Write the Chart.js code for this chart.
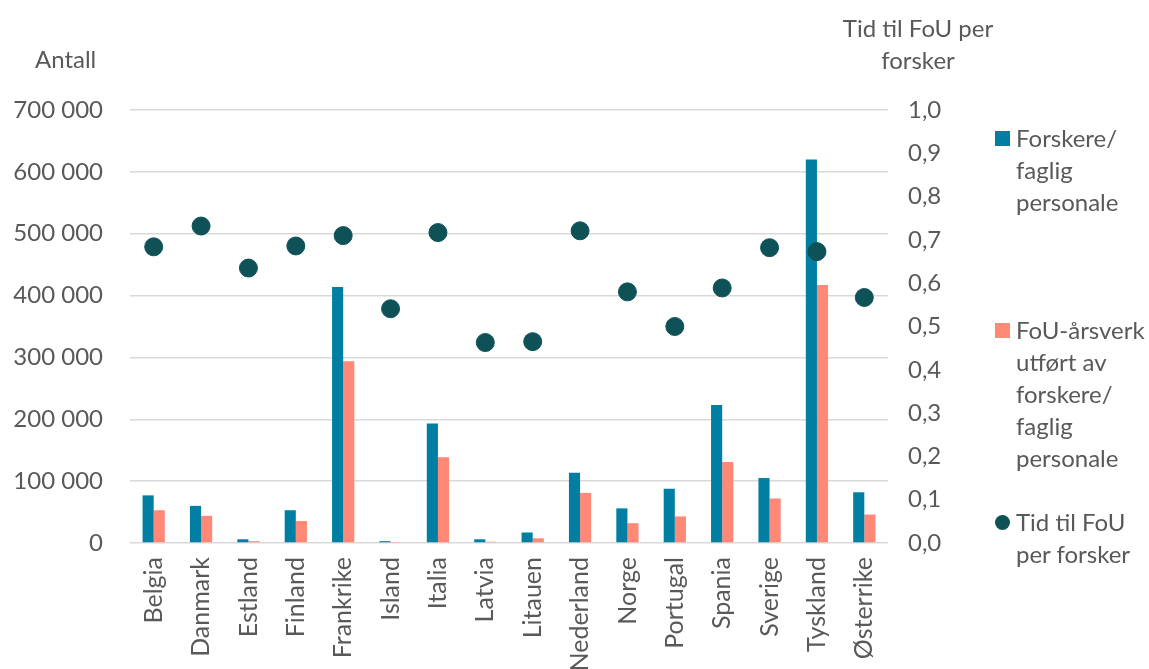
<!DOCTYPE html>
<html>
<head>
<meta charset="utf-8">
<script src="https://cdn.jsdelivr.net/npm/chart.js@4/dist/chart.umd.min.js"></script>
<style>
  html, body { margin: 0; padding: 0; background: #fff; }
  #wrap { position: relative; width: 1149px; height: 669px; font-family: Lato, sans-serif; color: #595959; }
  .t { position: absolute; font-size: 24px; line-height: 32px; white-space: nowrap; }
  .leg { position: absolute; left: 995px; font-size: 24px; line-height: 32px; }
  .leg .sw { position: absolute; left: 0; width: 15px; height: 15px; }
  .leg .tx { position: absolute; left: 21px; white-space: nowrap; }
</style>
</head>
<body>
<div id="wrap">
  <canvas id="chart" width="1149" height="669"></canvas>
  <div class="t" style="left:35px; top:43px;">Antall</div>
  <div class="t" style="left:818px; top:12px; width:200px; text-align:center;">Tid til FoU per<br>forsker</div>
  <div class="leg" style="top:122px;">
    <div class="sw" style="top:9px; background:#007FA3;"></div>
    <div class="tx">Forskere/<br>faglig<br>personale</div>
  </div>
  <div class="leg" style="top:314px;">
    <div class="sw" style="top:9px; background:#FF8876;"></div>
    <div class="tx">FoU-årsverk<br>utført av<br>forskere/<br>faglig<br>personale</div>
  </div>
  <div class="leg" style="top:506px;">
    <div class="sw" style="top:9px; border-radius:50%; background:#0E5257;"></div>
    <div class="tx">Tid til FoU<br>per forsker</div>
  </div>
</div>
<script>
const countries = ["Belgia", "Danmark", "Estland", "Finland", "Frankrike", "Island", "Italia", "Latvia",
  "Litauen", "Nederland", "Norge", "Portugal", "Spania", "Sverige", "Tyskland", "Østerrike"];
const researchers = [77000, 60000, 6000, 53000, 414000, 3000, 193000, 6000,
  17000, 113500, 56000, 87700, 223000, 105000, 620000, 82000];
const fteResearch = [53000, 44000, 3000, 35500, 294000, 1500, 138500, 2000,
  7600, 81000, 32000, 43000, 131000, 72000, 417000, 46000];
const timeShare = [0.684, 0.732, 0.635, 0.686, 0.710, 0.541, 0.717, 0.463,
  0.465, 0.721, 0.580, 0.500, 0.589, 0.682, 0.673, 0.567];

const textColor = '#595959';
const font = { family: 'Lato', size: 24 };

new Chart(document.getElementById('chart'), {
  data: {
    labels: countries,
    datasets: [
      {
        type: 'bar', label: 'Forskere/ faglig personale', data: researchers,
        backgroundColor: '#007FA3', yAxisID: 'y', order: 2,
        categoryPercentage: 0.47, barPercentage: 1
      },
      {
        type: 'bar', label: 'FoU-årsverk utført av forskere/ faglig personale', data: fteResearch,
        backgroundColor: '#FF8876', yAxisID: 'y', order: 2,
        categoryPercentage: 0.47, barPercentage: 1
      },
      {
        type: 'line', label: 'Tid til FoU per forsker', data: timeShare,
        showLine: false, pointRadius: 9, pointHoverRadius: 9,
        pointBackgroundColor: '#0E5257', pointBorderColor: '#0E5257',
        yAxisID: 'y1', order: 1
      }
    ]
  },
  options: {
    responsive: false,
    animation: false,
    layout: { padding: { top: 110, left: 0, right: 0, bottom: 0 } },
    plugins: { legend: { display: false }, tooltip: { enabled: false } },
    scales: {
      x: {
        grid: { display: false },
        border: { display: false },
        ticks: { color: textColor, font: { family: 'Lato', size: 25 }, maxRotation: 90, minRotation: 90, autoSkip: false, padding: 6 },
        afterFit: s => { s.height = 126; }
      },
      y: {
        position: 'left', min: 0, max: 700000,
        grid: { color: '#d9d9d9', lineWidth: 1.5, drawTicks: false },
        border: { display: false },
        ticks: {
          stepSize: 100000, color: textColor, font: font, padding: 27,
          callback: v => String(v).replace(/\B(?=(\d{3})+(?!\d))/g, ' ')
        },
        afterFit: s => { s.width = 130; }
      },
      y1: {
        position: 'right', min: 0, max: 1,
        grid: { display: false, drawTicks: false },
        border: { display: false },
        ticks: {
          stepSize: 0.1, color: textColor, font: font, padding: 20,
          callback: v => v.toFixed(1).replace('.', ',')
        },
        afterFit: s => { s.width = 261; }
      }
    }
  }
});
</script>
</body>
</html>
